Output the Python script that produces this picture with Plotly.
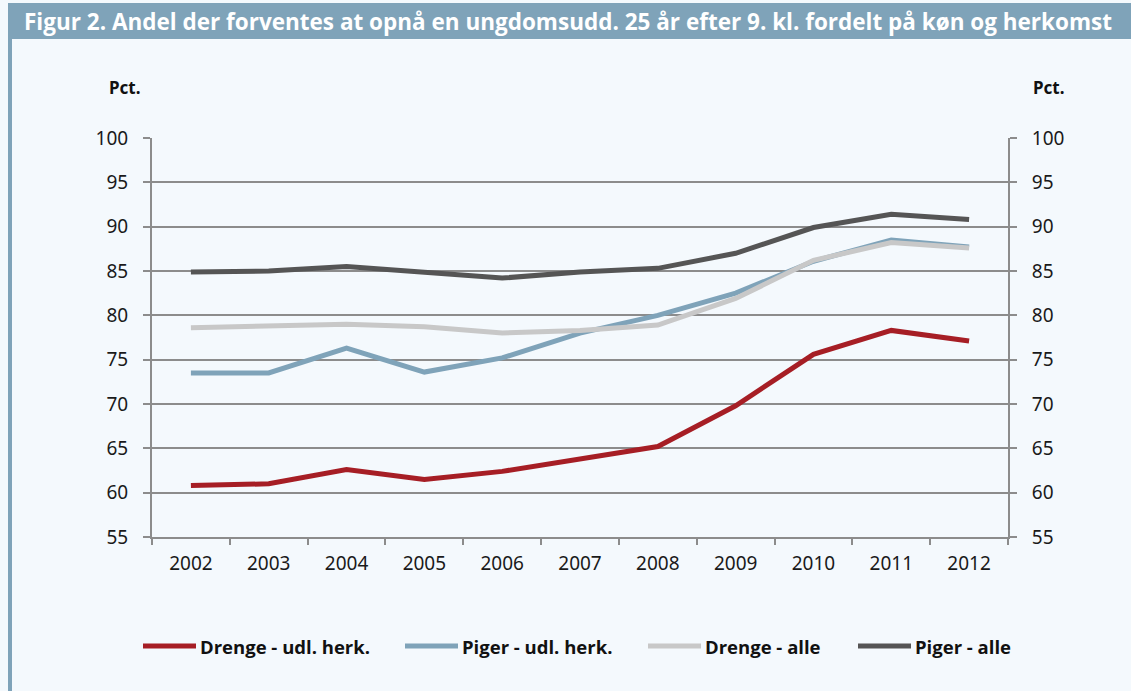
import plotly.graph_objects as go

years = ["2002", "2003", "2004", "2005", "2006", "2007", "2008", "2009", "2010", "2011", "2012"]
drenge_udl = [60.8, 61.0, 62.6, 61.5, 62.4, 63.8, 65.2, 69.8, 75.6, 78.3, 77.1]
piger_udl = [73.5, 73.5, 76.3, 73.6, 75.2, 78.0, 80.0, 82.5, 86.1, 88.5, 87.7]
drenge_alle = [78.6, 78.8, 79.0, 78.7, 78.0, 78.3, 78.9, 81.9, 86.2, 88.2, 87.6]
piger_alle = [84.9, 85.0, 85.5, 84.8, 84.2, 84.9, 85.3, 87.0, 89.9, 91.4, 90.8]

names = ["Drenge - udl. herk.", "Piger - udl. herk.", "Drenge - alle", "Piger - alle"]
colors = ["#a61e25", "#7fa3b9", "#c8c8c8", "#555555"]
series = [drenge_udl, piger_udl, drenge_alle, piger_alle]

title_text = "Figur 2. Andel der forventes at opnå en ungdomsudd. 25 år efter 9. kl. fordelt på køn og herkomst"

W, H = 1131, 691
L, R, T, B = 152, 1008, 138, 537

def px(x):
    return (x - L) / (R - L)

def py(y):
    return (B - y) / (B - T)

fig = go.Figure()
for name, col, vals in zip(names, colors, series):
    fig.add_trace(go.Scatter(x=years, y=vals, name=name, mode="lines",
                             line=dict(color=col, width=5), showlegend=False))
# invisible trace to activate right axis
fig.add_trace(go.Scatter(x=years, y=piger_alle, yaxis="y2", mode="lines",
                         line=dict(width=0), opacity=0, showlegend=False, hoverinfo="skip"))

tickfont = dict(family="Noto Sans, Open Sans, sans-serif", size=19, color="#1a1a1a")
gridc = "#8c8c8c"

fig.update_layout(
    width=W, height=H,
    margin=dict(l=L, r=W - R, t=T, b=H - B),
    paper_bgcolor="#f4f9fd",
    plot_bgcolor="#f4f9fd",
    showlegend=False,
    xaxis=dict(type="category", range=[-0.5, len(years) - 0.5], tickson="boundaries",
               ticks="outside", ticklen=6,
               tickcolor=gridc, tickwidth=2, showline=True, linecolor=gridc, linewidth=2,
               showgrid=False, tickfont=tickfont, ticklabelstandoff=8),
    yaxis=dict(range=[55, 100], dtick=5, tick0=55, ticks="outside", ticklen=7,
               tickcolor=gridc, tickwidth=2, showline=True, linecolor=gridc, linewidth=2,
               gridcolor=gridc, gridwidth=1.5, tickfont=tickfont, zeroline=False,
               ticklabelstandoff=11),
    yaxis2=dict(range=[55, 100], dtick=5, tick0=55, overlaying="y", side="right",
                ticks="outside", ticklen=7, tickcolor=gridc, tickwidth=2, showline=True,
                linecolor=gridc, linewidth=2, showgrid=False, tickfont=tickfont,
                zeroline=False, ticklabelstandoff=11),
)

shapes = []
# title bar
shapes.append(dict(type="rect", xref="paper", yref="paper",
                   x0=px(8), x1=px(1131), y0=py(39), y1=py(3),
                   fillcolor="#7fa3b9", line=dict(width=0), layer="below"))
# left bar
shapes.append(dict(type="rect", xref="paper", yref="paper",
                   x0=px(8), x1=px(12), y0=py(691), y1=py(39),
                   fillcolor="#7fa3b9", line=dict(width=0), layer="below"))

annotations = [
    dict(text="<b>" + title_text + "</b>", xref="paper", yref="paper",
         x=px(568), y=py(21), xanchor="center", yanchor="middle", showarrow=False,
         font=dict(family="Open Sans, sans-serif", size=22.5, color="white")),
    dict(text="<b>Pct.</b>", xref="paper", yref="paper", x=px(124), y=py(88),
         xanchor="center", yanchor="middle", showarrow=False,
         font=dict(family="Noto Sans, Open Sans, sans-serif", size=17, color="#111")),
    dict(text="<b>Pct.</b>", xref="paper", yref="paper", x=px(1048), y=py(88),
         xanchor="center", yanchor="middle", showarrow=False,
         font=dict(family="Noto Sans, Open Sans, sans-serif", size=17, color="#111")),
]

# manual legend
leg_starts = [143, 405, 648, 858]
leg_y = 646
for name, col, x0 in zip(names, colors, leg_starts):
    shapes.append(dict(type="line", xref="paper", yref="paper",
                       x0=px(x0), x1=px(x0 + 53), y0=py(leg_y), y1=py(leg_y),
                       line=dict(color=col, width=5)))
    annotations.append(dict(text="<b>" + name + "</b>", xref="paper", yref="paper",
                            x=px(x0 + 55), y=py(leg_y), xanchor="left", yanchor="middle",
                            showarrow=False,
                            font=dict(family="Open Sans, sans-serif", size=18.5, color="#111")))

fig.update_layout(shapes=shapes, annotations=annotations)
fig.write_html("out.html", post_script="document.body.style.margin='0';",
               config={"displayModeBar": False})
